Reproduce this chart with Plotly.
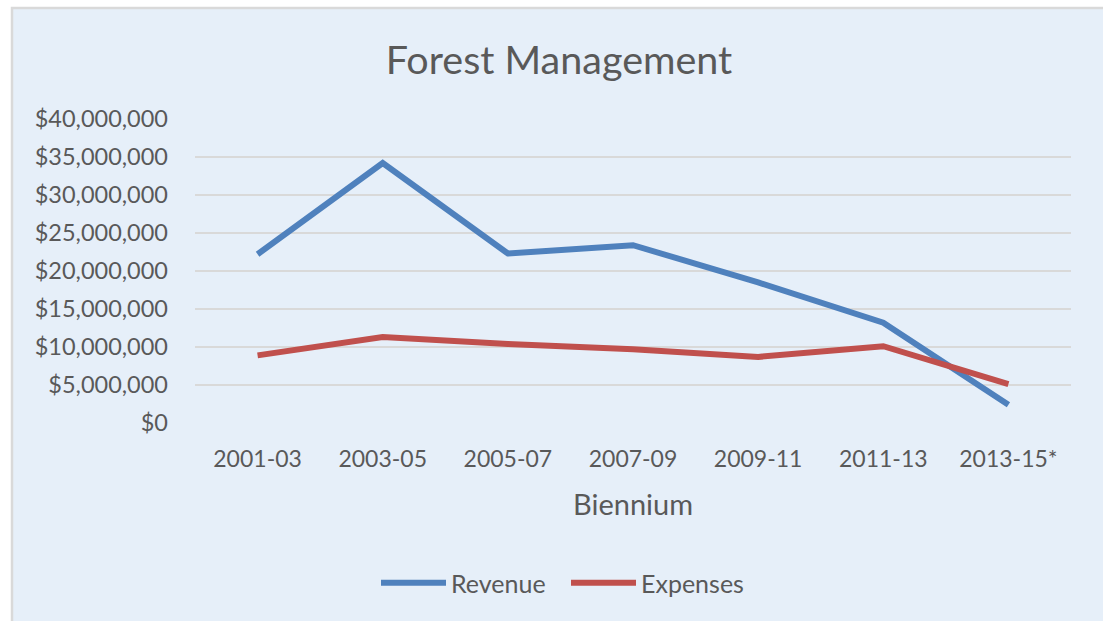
import plotly.graph_objects as go

categories = ["2001-03", "2003-05", "2005-07", "2007-09", "2009-11", "2011-13", "2013-15*"]
revenue = [22200000, 34200000, 22300000, 23400000, 18500000, 13200000, 2400000]
expenses = [8900000, 11300000, 10400000, 9700000, 8700000, 10100000, 5100000]
y_ticks = [0, 5000000, 10000000, 15000000, 20000000, 25000000, 30000000, 35000000, 40000000]
y_tick_labels = ["$0", "$5,000,000", "$10,000,000", "$15,000,000", "$20,000,000",
                 "$25,000,000", "$30,000,000", "$35,000,000", "$40,000,000"]

FONT = "Lato"
TXT = "#595959"
W, H = 1103, 621
L, R, T, B = 195, 32, 119, 198
PW, PH = W - L - R, H - T - B

def px_x(x):
    return (x - L) / PW

def px_y(y):
    return (H - B - y) / PH

fig = go.Figure()
fig.add_trace(go.Scatter(x=categories, y=revenue, mode="lines", name="Revenue",
                         line=dict(color="#4F81BD", width=6)))
fig.add_trace(go.Scatter(x=categories, y=expenses, mode="lines", name="Expenses",
                         line=dict(color="#C0504D", width=6)))

fig.update_layout(
    width=W, height=H,
    margin=dict(l=L, r=R, t=T, b=B, autoexpand=False),
    paper_bgcolor="white",
    plot_bgcolor="rgba(0,0,0,0)",
    font=dict(family=FONT, color=TXT, size=23),
    title=dict(text="Forest Management", x=559 / W, xref="container", xanchor="center",
               y=1 - 60 / H, yref="container", yanchor="middle",
               font=dict(size=39.5, color=TXT, family=FONT)),
    showlegend=True,
    legend=dict(orientation="h", x=px_x(376), xanchor="left", y=px_y(583), yanchor="middle",
                font=dict(size=25, color=TXT), itemwidth=65, bgcolor="rgba(0,0,0,0)",
                entrywidth=110, entrywidthmode="pixels", traceorder="normal"),
    shapes=[dict(type="rect", xref="paper", yref="paper",
                 x0=px_x(12), x1=px_x(W + 20), y0=px_y(H + 20), y1=px_y(8),
                 fillcolor="#E6EFF9", line=dict(color="#D9D9D9", width=2.5), layer="below")],
    annotations=[dict(text="Biennium", xref="paper", yref="paper", x=px_x(633), y=px_y(503),
                      xanchor="center", yanchor="middle", showarrow=False,
                      font=dict(size=29, color=TXT, family=FONT))],
)

fig.update_xaxes(type="category", range=[-0.5, 6.5], showgrid=False, zeroline=False,
                 showline=False, ticks="", ticklabelstandoff=20,
                 tickfont=dict(size=23, color=TXT))
fig.update_yaxes(range=[0, 40000000], tickvals=y_ticks, ticktext=y_tick_labels,
                 showgrid=True, gridcolor="#D9D9D9", gridwidth=2, zeroline=False,
                 showline=False, ticks="", ticklabelstandoff=26,
                 tickfont=dict(size=23.5, color=TXT))

fig.write_html("out.html", config={"displayModeBar": False},
               post_script="document.body.style.margin='0';document.body.style.overflow='hidden';")
